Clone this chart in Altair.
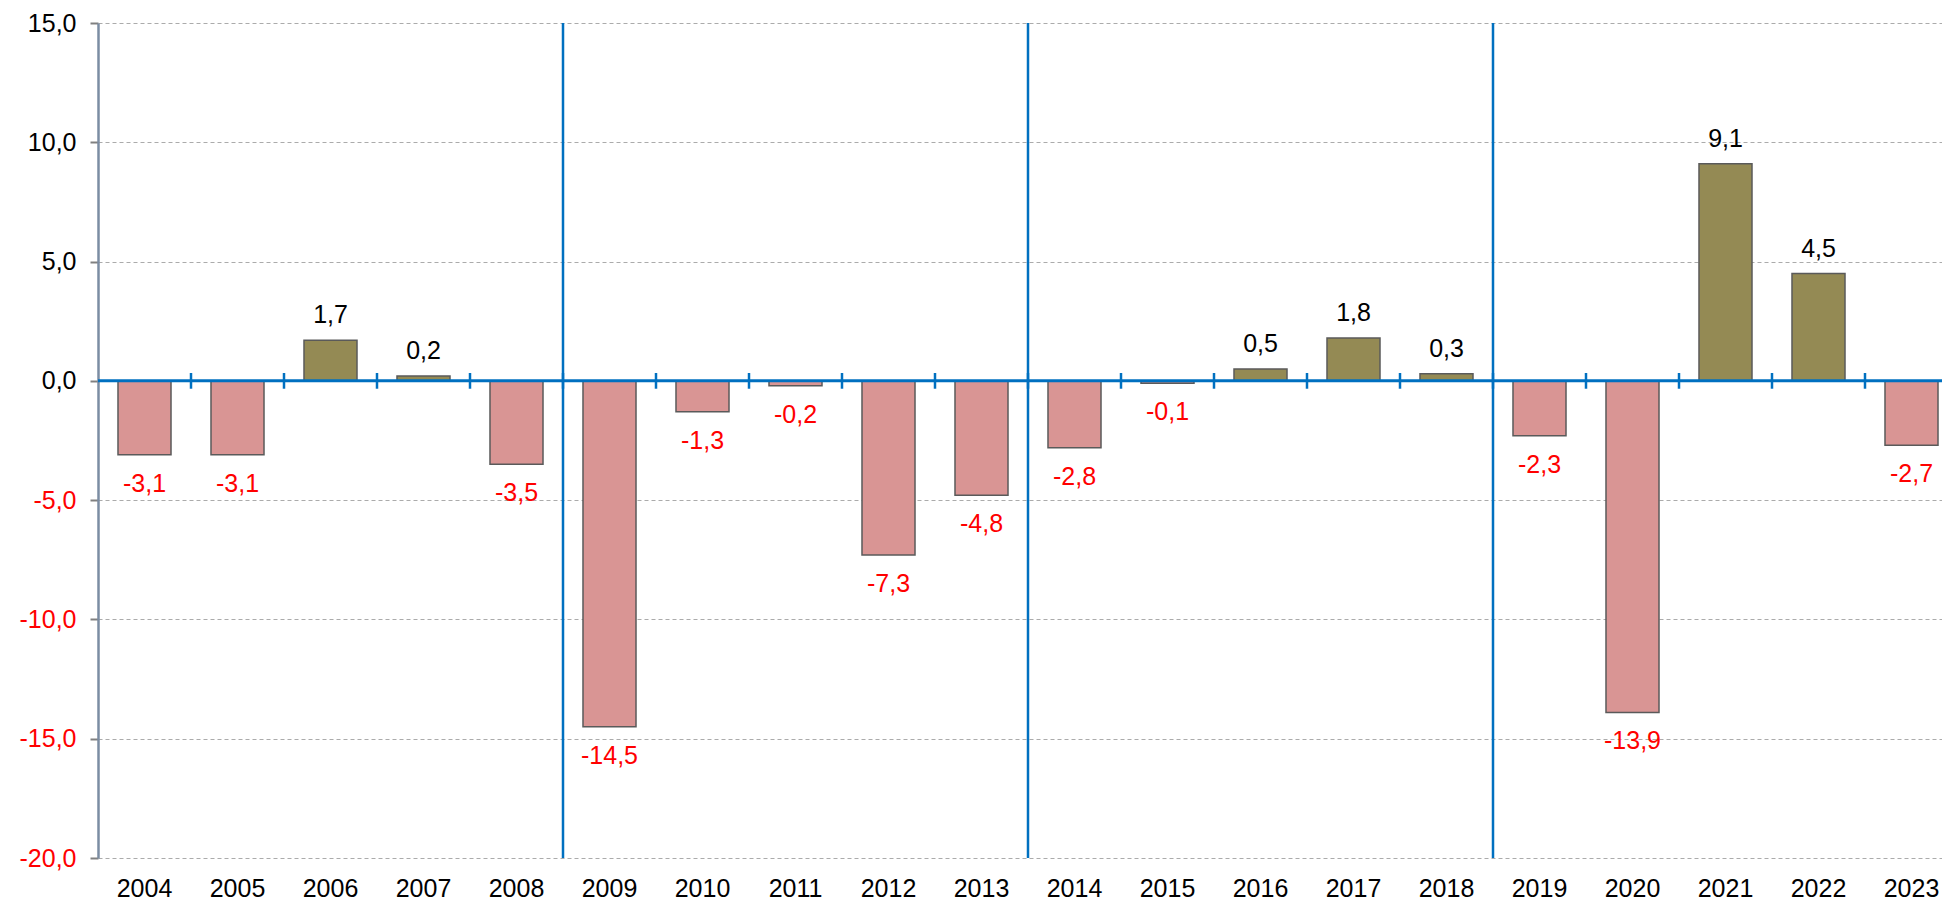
import altair as alt
import pandas as pd

years = ["2004", "2005", "2006", "2007", "2008", "2009", "2010", "2011", "2012", "2013",
         "2014", "2015", "2016", "2017", "2018", "2019", "2020", "2021", "2022", "2023"]
values = [-3.1, -3.1, 1.7, 0.2, -3.5, -14.5, -1.3, -0.2, -7.3, -4.8,
          -2.8, -0.1, 0.5, 1.8, 0.3, -2.3, -13.9, 9.1, 4.5, -2.7]
divider_years = ["2009", "2014", "2019"]
tick_years = years[1:]
y_ticks = [-20, -15, -10, -5, 0, 5, 10, 15]

FONT = "Liberation Sans"
FMT = "replace(replace(format({v}, '.1f'), '.', ','), '\u2212', '-')"

df = pd.DataFrame({"year": years, "value": values})

x_scale = alt.Scale(domain=years, range=[0, 1860], paddingInner=0, paddingOuter=0)
y_scale = alt.Scale(domain=[-20, 15], nice=False, zero=False)

x_axis = alt.Axis(title=None, domain=False, ticks=False, labelAngle=0, labelFont=FONT,
                  labelFontSize=25, labelColor="black", labelPadding=18, grid=False)
y_axis = alt.Axis(title=None, values=y_ticks,
                  labelExpr=FMT.format(v="datum.value"),
                  labelColor=alt.condition("datum.value < 0", alt.value("#FF0000"), alt.value("#000000")),
                  labelFont=FONT, labelFontSize=25, labelPadding=14,
                  tickSize=8, tickColor="#808080", tickWidth=2,
                  domainColor="#7B8DA3", domainWidth=2.5,
                  grid=True, gridColor="#ABABAB", gridDash=[4, 3], gridWidth=1)

X = alt.X("year:O", scale=x_scale, axis=x_axis)
Y = alt.Y("value:Q", scale=y_scale, axis=y_axis)

base = alt.Chart(df).transform_calculate(label=FMT.format(v="datum.value"))

dividers = alt.Chart(pd.DataFrame({"year": divider_years})).mark_rule(
    color="#0070C0", strokeWidth=2.5
).encode(x=alt.X("year:O", scale=x_scale, axis=x_axis, bandPosition=0))

bars = base.mark_bar(width=alt.RelativeBandSize(0.57), stroke="#5A5A5A", strokeWidth=1.5).encode(
    x=X, y=Y,
    color=alt.condition("datum.value >= 0", alt.value("#948A54"), alt.value("#D99594")),
)

zero = alt.Chart(pd.DataFrame({"value": [0]})).mark_rule(color="#0070C0", strokeWidth=3).encode(y=Y)

ticks = alt.Chart(pd.DataFrame({"year": tick_years})).mark_rule(color="#0070C0", strokeWidth=2.5).encode(
    x=alt.X("year:O", scale=x_scale, axis=x_axis, bandPosition=0),
    y=alt.datum(0.33, scale=y_scale, axis=y_axis),
    y2=alt.datum(-0.33),
)

pos_labels = base.transform_filter("datum.value >= 0").mark_text(
    baseline="alphabetic", dy=-17, font=FONT, fontSize=25, color="#000000"
).encode(x=X, y=Y, text="label:N")

neg_labels = base.transform_filter("datum.value < 0").mark_text(
    baseline="alphabetic", dy=37, font=FONT, fontSize=25, color="#FF0000"
).encode(x=X, y=Y, text="label:N")

chart = alt.layer(dividers, bars, zero, ticks, pos_labels, neg_labels).properties(
    width=1844, height=835,
    autosize=alt.AutoSizeParams(type="none"),
    padding={"left": 90, "top": 15, "right": 0, "bottom": 46},
).configure_view(stroke=None)

chart.save("out.html", embed_options={"renderer": "svg", "actions": False})
